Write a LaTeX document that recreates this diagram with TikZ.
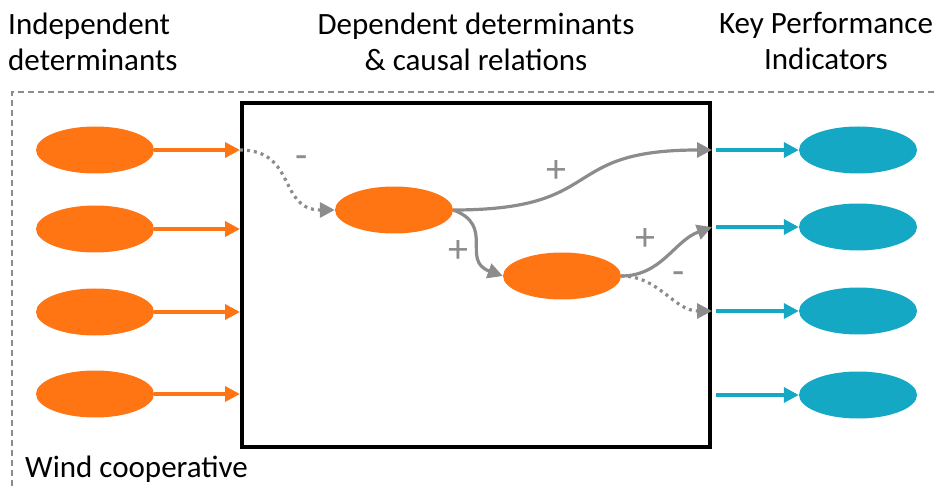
\documentclass[tikz,border=0pt]{standalone}
\usepackage{fontspec}
\setmainfont{Carlito}
\usepackage{tikz}
\usetikzlibrary{positioning,arrows.meta,shapes.geometric}

\definecolor{detorange}{RGB}{255,117,20}
\definecolor{kpiteal}{RGB}{21,168,197}
\definecolor{linkgray}{RGB}{140,140,140}

\tikzset{
  detnode/.style={ellipse, fill=detorange, minimum width=118pt, minimum height=47pt, inner sep=0pt},
  kpinode/.style={ellipse, fill=kpiteal, minimum width=118pt, minimum height=47pt, inner sep=0pt},
  headtext/.style={inner sep=0pt, font=\fontsize{31}{36}\selectfont},
  signtext/.style={inner sep=0pt, text=linkgray, font=\fontsize{40}{44}\selectfont},
  feedin/.style={->, line width=3.6pt, detorange},
  feedout/.style={->, line width=3.4pt, kpiteal},
  causal/.style={->, line width=3.2pt, linkgray},
  negcausal/.style={causal, dash pattern=on 3pt off 4pt}
}

\begin{document}
\begin{tikzpicture}[x=1pt, y=-1pt, >={Triangle[length=15pt,width=15pt]}]
  \useasboundingbox (0,0) rectangle (937,486);

  %--- Outer frame (wind cooperative)
  \draw[linkgray, line width=1.3pt, dash pattern=on 6pt off 4pt]
    (12,486) -- (12,92) -- (937,92);

  %--- Headings
  \node[headtext, anchor=north west, align=left] (hind) at (8,12.5)
    {Independent\\determinants};
  \node[headtext, anchor=north, align=center] (hdep) at (476,12.5)
    {Dependent determinants\\\& causal relations};
  \node[headtext, anchor=north, align=center] (hkpi) at (826,12.5)
    {Key Performance\\Indicators};
  \node[headtext, anchor=base west] (hcoop) at (25,477) {Wind cooperative};

  %--- Black box for the dependent determinants
  \node[draw, line width=4pt, minimum width=468pt, minimum height=344pt,
        inner sep=0pt] (box) at (476,275) {};

  %--- Independent determinants
  \node[detnode] (ind1) at (95,150) {};
  \node[detnode] (ind2) at (95,229) {};
  \node[detnode] (ind3) at (95,312) {};
  \node[detnode] (ind4) at (95,394) {};

  \draw[feedin] (ind1.east) -- (ind1 -| box.west);
  \draw[feedin] (ind2.east) -- (ind2 -| box.west);
  \draw[feedin] (ind3.east) -- (ind3 -| box.west);
  \draw[feedin] (ind4.east) -- (ind4 -| box.west);

  %--- Dependent determinants
  \node[detnode] (depa) at (394,210) {};
  \node[detnode] (depb) at (562,276) {};

  %--- Key performance indicators
  \node[kpinode] (kpi1) at (858,150) {};
  \node[kpinode] (kpi2) at (858,227) {};
  \node[kpinode] (kpi3) at (858,311) {};
  \node[kpinode] (kpi4) at (858,395) {};

  \draw[feedout] ([xshift=4pt]kpi1 -| box.east) -- (kpi1.west);
  \draw[feedout] ([xshift=4pt]kpi2 -| box.east) -- (kpi2.west);
  \draw[feedout] ([xshift=4pt]kpi3 -| box.east) -- (kpi3.west);
  \draw[feedout] ([xshift=4pt]kpi4 -| box.east) -- (kpi4.west);

  %--- Causal relations
  \draw[negcausal] (ind1 -| box.west) to[out=0, in=180, looseness=1.3] (depa.west);
  \draw[causal] (depa.east) to[out=0, in=180, looseness=1.5] (kpi1 -| box.east);
  \draw[causal] (depa.east) to[out=-20, in=160, looseness=1.4] (depb.west);
  \draw[causal] (depb.east) to[out=0, in=200] (kpi2 -| box.east);
  \draw[negcausal] (depb.east) to[out=0, in=180] (kpi3 -| box.east);

  %--- Signs
  \node[signtext] (sgn1) at (302,162) {-};
  \node[signtext] (sgn2) at (556,172) {+};
  \node[signtext] (sgn3) at (458,252) {+};
  \node[signtext] (sgn4) at (645,240) {+};
  \node[signtext] (sgn5) at (679,278) {-};
\end{tikzpicture}
\end{document}
